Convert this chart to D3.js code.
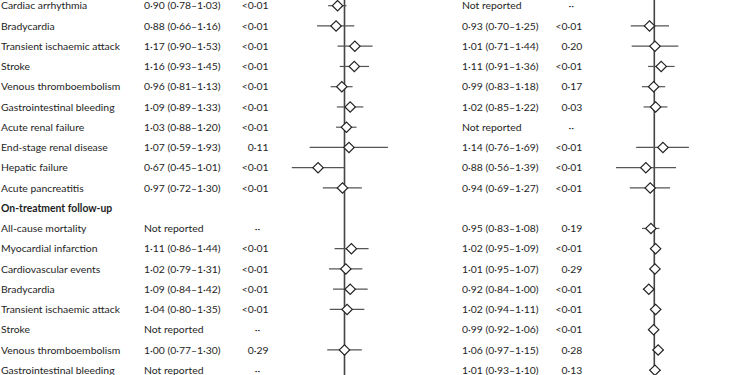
<!DOCTYPE html>
<html lang="en">
<head>
<meta charset="utf-8">
<style>
    body { margin: 0; background: #fff; }
    text { font-family: Lato, "Open Sans", sans-serif; font-size: 10.4px; fill: #1e1e1e; }
</style>
</head>
<body>
<svg id="chart" width="750" height="375"></svg>
<script src="https://cdnjs.cloudflare.com/ajax/libs/d3/7.8.5/d3.min.js"></script>
<script>

    // row labels, one per row (null estimate = "Not reported", header row has no values)
    var labels = ["Cardiac arrhythmia", "Bradycardia", "Transient ischaemic attack", "Stroke",
        "Venous thromboembolism", "Gastrointestinal bleeding", "Acute renal failure",
        "End-stage renal disease", "Hepatic failure", "Acute pancreatitis",
        "On-treatment follow-up",
        "All-cause mortality", "Myocardial infarction", "Cardiovascular events", "Bradycardia",
        "Transient ischaemic attack", "Stroke", "Venous thromboembolism", "Gastrointestinal bleeding"];
    var headerRows = [10];

    // left panel
    var leftEst = [0.90, 0.88, 1.17, 1.16, 0.96, 1.09, 1.03, 1.07, 0.67, 0.97, undefined,
        null, 1.11, 1.02, 1.09, 1.04, null, 1.00, null];
    var leftLow = [0.78, 0.66, 0.90, 0.93, 0.81, 0.89, 0.88, 0.59, 0.45, 0.72, undefined,
        null, 0.86, 0.79, 0.84, 0.80, null, 0.77, null];
    var leftHigh = [1.03, 1.16, 1.53, 1.45, 1.13, 1.33, 1.20, 1.93, 1.01, 1.30, undefined,
        null, 1.44, 1.31, 1.42, 1.35, null, 1.30, null];
    var leftP = ["<0·01", "<0·01", "<0·01", "<0·01", "<0·01", "<0·01", "<0·01", "0·11", "<0·01", "<0·01", "",
        "··", "<0·01", "<0·01", "<0·01", "<0·01", "··", "0·29", "··"];

    // right panel
    var rightEst = [null, 0.93, 1.01, 1.11, 0.99, 1.02, null, 1.14, 0.88, 0.94, undefined,
        0.95, 1.02, 1.01, 0.92, 1.02, 0.99, 1.06, 1.01];
    var rightLow = [null, 0.70, 0.71, 0.91, 0.83, 0.85, null, 0.76, 0.56, 0.69, undefined,
        0.83, 0.95, 0.95, 0.84, 0.94, 0.92, 0.97, 0.93];
    var rightHigh = [null, 1.25, 1.44, 1.36, 1.18, 1.22, null, 1.69, 1.39, 1.27, undefined,
        1.08, 1.09, 1.07, 1.00, 1.11, 1.06, 1.15, 1.10];
    var rightP = ["··", "<0·01", "0·20", "<0·01", "0·17", "0·03", "··", "<0·01", "<0·01", "<0·01", "",
        "0·19", "<0·01", "0·29", "<0·01", "<0·01", "<0·01", "0·28", "0·13"];

    var width = 750, height = 375;
    var svg = d3.select("#chart");

    var y = d3.scaleLinear().domain([0, labels.length - 1]).range([5.7, 370.2]);

    var fmt = function (v) {
        return v.toFixed(2).replace(".", "·");
    };

    var renderPanel = function (est, low, high, pvals, estX, pRight, xRange) {
        var g = svg.append("g");
        var x = d3.scaleLog().domain([0.25, 4]).range(xRange);

        // estimate text
        g.selectAll(".est")
            .data(est)
            .enter()
            .append("text")
            .attr("x", estX)
            .attr("y", function (d, i) { return y(i); })
            .attr("dy", "0.35em")
            .text(function (d, i) {
                if (d === undefined) return "";
                if (d === null) return "Not reported";
                return fmt(d) + " (" + fmt(low[i]) + "–" + fmt(high[i]) + ")";
            });

        // p values
        g.selectAll(".pv")
            .data(pvals)
            .enter()
            .append("text")
            .attr("x", function (d) { return d == "··" ? pRight - 11 : pRight; })
            .attr("y", function (d, i) { return y(i); })
            .attr("dy", "0.35em")
            .attr("text-anchor", function (d) { return d == "··" ? "middle" : "end"; })
            .text(function (d) { return d; });

        // reference line at 1
        g.append("line")
            .attr("x1", x(1)).attr("x2", x(1))
            .attr("y1", 0).attr("y2", height)
            .attr("stroke", "#444")
            .attr("stroke-width", 1.6);

        var rows = d3.range(est.length).filter(function (i) { return est[i] != null; });

        // whiskers
        g.selectAll(".ci")
            .data(rows)
            .enter()
            .append("line")
            .attr("x1", function (i) { return x(low[i]); })
            .attr("x2", function (i) { return x(high[i]); })
            .attr("y1", function (i) { return y(i); })
            .attr("y2", function (i) { return y(i); })
            .attr("stroke", "#555")
            .attr("stroke-width", 1.2);

        // diamonds
        var s = 5.2;
        g.selectAll(".pt")
            .data(rows)
            .enter()
            .append("path")
            .attr("d", function (i) {
                var cx = x(est[i]), cy = y(i);
                return "M" + (cx - s) + "," + cy + "L" + cx + "," + (cy - s) +
                    "L" + (cx + s) + "," + cy + "L" + cx + "," + (cy + s) + "Z";
            })
            .attr("fill", "#fff")
            .attr("stroke", "#222")
            .attr("stroke-width", 1.2);
    };

    // row labels
    svg.append("g").selectAll("text")
        .data(labels)
        .enter()
        .append("text")
        .attr("x", 1)
        .attr("y", function (d, i) { return y(i); })
        .attr("dy", "0.35em")
        .attr("font-weight", function (d, i) { return headerRows.includes(i) ? "bold" : "normal"; })
        .text(function (d) { return d; });

    renderPanel(leftEst, leftLow, leftHigh, leftP, 144, 268.5, [253, 436]);
    renderPanel(rightEst, rightLow, rightHigh, rightP, 462, 582.3, [562.8, 745.8]);

</script>
</body>
</html>
